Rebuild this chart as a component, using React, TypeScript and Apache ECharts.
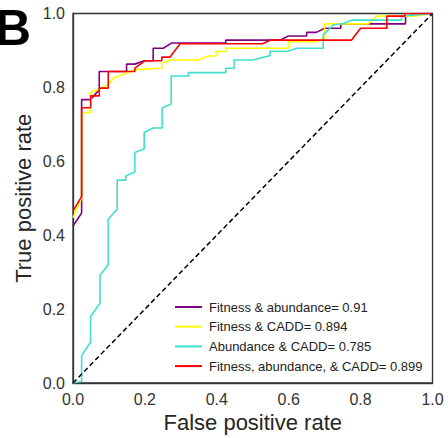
import React, { useEffect, useRef } from "react";
import * as echarts from "echarts";

const seriesNames = [
  "Fitness & abundance= 0.91",
  "Fitness & CADD= 0.894",
  "Abundance & CADD= 0.785",
  "Fitness, abundance, & CADD= 0.899",
];
const seriesColors = ["#800080", "#FFFF00", "#40E0D0", "#FF0000"];

const xTicks = [0, 0.2, 0.4, 0.6, 0.8, 1.0];

const fitnessAbundance: number[][] = [
  [0, 0.425], [0.024, 0.46], [0.024, 0.767], [0.049, 0.767], [0.073, 0.794],
  [0.073, 0.843], [0.149, 0.843], [0.149, 0.863], [0.172, 0.863], [0.198, 0.872],
  [0.223, 0.872], [0.223, 0.906], [0.251, 0.906], [0.274, 0.92], [0.425, 0.92],
  [0.425, 0.928], [0.576, 0.928], [0.599, 0.939], [0.65, 0.939], [0.65, 0.949],
  [0.677, 0.949], [0.7, 0.96], [0.745, 0.96], [0.745, 0.972], [0.925, 0.972],
  [0.925, 0.993], [0.946, 0.993], [0.946, 1], [1, 1],
];

const fitnessCadd: number[][] = [
  [0, 0.447], [0.024, 0.501], [0.024, 0.732], [0.049, 0.732], [0.049, 0.786],
  [0.073, 0.795], [0.101, 0.811], [0.112, 0.825], [0.126, 0.831], [0.149, 0.839],
  [0.172, 0.848], [0.247, 0.852], [0.247, 0.865], [0.27, 0.874], [0.349, 0.874],
  [0.375, 0.885], [0.398, 0.885], [0.398, 0.897], [0.425, 0.897], [0.425, 0.906],
  [0.599, 0.906], [0.599, 0.924], [0.678, 0.924], [0.7, 0.933], [0.7, 0.972],
  [0.821, 0.972], [0.845, 0.993], [0.95, 0.993], [1, 1],
];

const abundanceCadd: number[][] = [
  [0, 0], [0.024, 0.004], [0.024, 0.074], [0.049, 0.111], [0.049, 0.18],
  [0.075, 0.216], [0.075, 0.291], [0.098, 0.32], [0.098, 0.443], [0.123, 0.471],
  [0.123, 0.549], [0.147, 0.549], [0.147, 0.56], [0.172, 0.571], [0.172, 0.624],
  [0.198, 0.633], [0.198, 0.678], [0.223, 0.69], [0.248, 0.69], [0.248, 0.744],
  [0.273, 0.755], [0.273, 0.831], [0.321, 0.831], [0.321, 0.84], [0.425, 0.84],
  [0.425, 0.852], [0.448, 0.852], [0.448, 0.874], [0.5, 0.874], [0.548, 0.886],
  [0.548, 0.898], [0.599, 0.898], [0.622, 0.906], [0.696, 0.906], [0.696, 0.942],
  [0.724, 0.969], [0.752, 0.973], [0.775, 0.982], [0.914, 0.982], [0.914, 0.993],
  [1, 1],
];

const fitnessAbundanceCadd: number[][] = [
  [0, 0.465], [0.024, 0.505], [0.024, 0.745], [0.049, 0.745], [0.049, 0.777],
  [0.073, 0.777], [0.073, 0.798], [0.098, 0.798], [0.098, 0.843], [0.172, 0.843],
  [0.172, 0.852], [0.2, 0.872], [0.247, 0.872], [0.247, 0.882], [0.27, 0.882],
  [0.298, 0.918], [0.527, 0.918], [0.55, 0.928], [0.775, 0.928], [0.8, 0.96],
  [0.873, 0.96], [0.873, 0.993], [0.923, 0.993], [0.923, 1], [1, 1],
];

const chanceLine: number[][] = [[0, 0], [1, 1]];

const allCurves = [fitnessAbundance, fitnessCadd, abundanceCadd, fitnessAbundanceCadd];

export default function App() {
  const ref = useRef<HTMLDivElement>(null);
  useEffect(() => {
    if (!ref.current) return;
    const chart = echarts.init(ref.current, null, { renderer: "svg" });
    const font = "'Liberation Sans', Arial, sans-serif";
    chart.setOption({
      animation: false,
      backgroundColor: "#ffffff",
      textStyle: { fontFamily: font },
      grid: {
        left: 73,
        top: 13.5,
        right: 15.5,
        bottom: 54,
        show: true,
        borderColor: "#333",
        borderWidth: 1.3,
        backgroundColor: "transparent",
      },
      graphic: [
        {
          type: "text",
          left: -5,
          top: 3,
          style: { text: "B", fontSize: 50, fontWeight: "bold", fill: "#000", fontFamily: font },
        },
      ],
      legend: {
        orient: "vertical",
        left: 170,
        top: 295,
        icon: "rect",
        itemWidth: 27,
        itemHeight: 2,
        itemGap: 5.7,
        data: seriesNames,
        textStyle: {
          fontSize: 13,
          color: "#222",
          lineHeight: 14,
          padding: [0, 0, 0, 2],
          fontFamily: font,
        },
      },
      xAxis: {
        type: "value",
        min: 0,
        max: 1,
        interval: 0.2,
        name: "False positive rate",
        nameLocation: "middle",
        nameGap: 28,
        nameMoveOverlap: false,
        nameTextStyle: { fontSize: 22, color: "#262626", fontFamily: font },
        axisLine: { show: true, lineStyle: { color: "#333", width: 1.3 } },
        axisTick: { show: false },
        splitLine: { show: false },
        axisLabel: {
          fontSize: 16,
          color: "#333",
          margin: 8,
          fontFamily: font,
          formatter: (v: number) => (xTicks.includes(Math.round(v * 10) / 10) ? v.toFixed(1) : ""),
        },
      },
      yAxis: {
        type: "value",
        min: 0,
        max: 1,
        interval: 0.2,
        name: "True positive rate",
        nameLocation: "middle",
        nameGap: 39,
        nameMoveOverlap: false,
        nameTextStyle: { fontSize: 22, color: "#262626", fontFamily: font },
        axisLine: { show: true, lineStyle: { color: "#333", width: 1.3 } },
        axisTick: { show: false },
        splitLine: { show: false },
        axisLabel: {
          fontSize: 16,
          color: "#333",
          margin: 8,
          fontFamily: font,
          formatter: (v: number) => v.toFixed(1),
        },
      },
      series: [
        ...allCurves.map((d, i) => ({
          name: seriesNames[i],
          type: "line",
          data: d,
          showSymbol: false,
          symbol: "none",
          color: seriesColors[i],
          lineStyle: { color: seriesColors[i], width: 1.6 },
          z: 2 + i,
        })),
        {
          name: "chance",
          type: "line",
          data: chanceLine,
          showSymbol: false,
          symbol: "none",
          lineStyle: { color: "#000", width: 1.5, type: [5, 3] },
          z: 10,
        },
      ],
    });
    return () => chart.dispose();
  }, []);
  return <div ref={ref} style={{ width: 448, height: 438, position: "absolute", left: 0, top: 0 }} />;
}
